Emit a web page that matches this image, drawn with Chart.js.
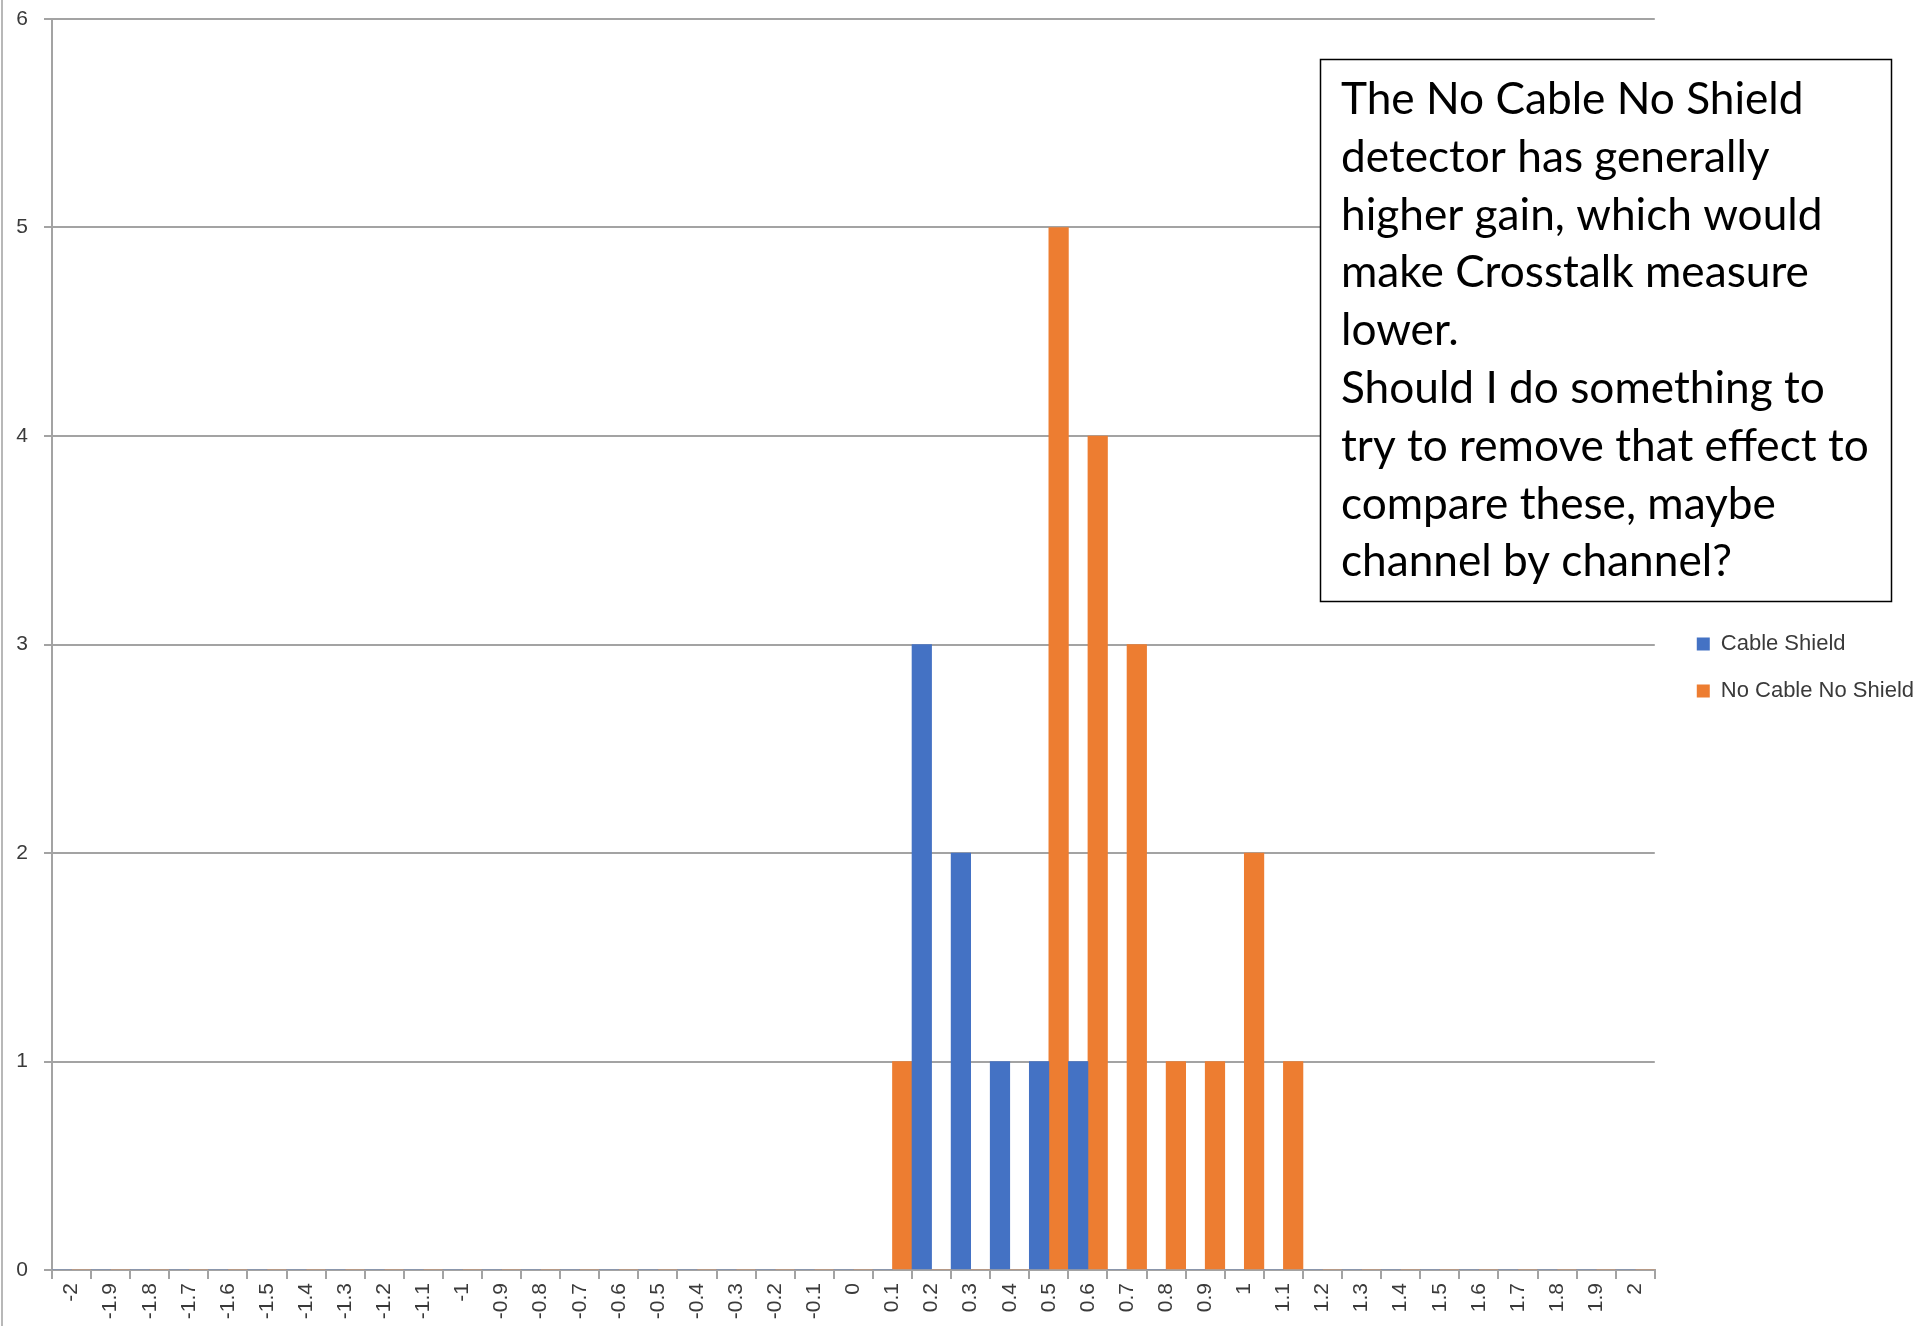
<!DOCTYPE html>
<html>
<head>
<meta charset="utf-8">
<title>Crosstalk histogram</title>
<script src="https://cdn.jsdelivr.net/npm/chart.js@4.4.0/dist/chart.umd.min.js"></script>
<style>
  html, body { margin: 0; padding: 0; background: #fff; }
  #wrap { position: relative; width: 1931px; height: 1326px; }
</style>
</head>
<body>
<div id="wrap"><canvas id="histChart"></canvas></div>
<script>
// histogram bins (crosstalk value)
const bins = ['-2', '-1.9', '-1.8', '-1.7', '-1.6', '-1.5', '-1.4', '-1.3', '-1.2', '-1.1',
  '-1', '-0.9', '-0.8', '-0.7', '-0.6', '-0.5', '-0.4', '-0.3', '-0.2', '-0.1',
  '0', '0.1', '0.2', '0.3', '0.4', '0.5', '0.6', '0.7', '0.8', '0.9',
  '1', '1.1', '1.2', '1.3', '1.4', '1.5', '1.6', '1.7', '1.8', '1.9', '2'];

// counts per bin
const cableShield = [0, 0, 0, 0, 0, 0, 0, 0, 0, 0,
  0, 0, 0, 0, 0, 0, 0, 0, 0, 0,
  0, 0, 3, 2, 1, 1, 1, 0, 0, 0,
  0, 0, 0, 0, 0, 0, 0, 0, 0, 0, 0];
const noCableNoShield = [0, 0, 0, 0, 0, 0, 0, 0, 0, 0,
  0, 0, 0, 0, 0, 0, 0, 0, 0, 0,
  0, 1, 0, 0, 0, 5, 4, 3, 1, 1,
  2, 1, 0, 0, 0, 0, 0, 0, 0, 0, 0];

const seriesNames = ['Cable Shield', 'No Cable No Shield'];
const yMin = 0;
const yMax = 6;
const yStep = 1;

const noteLines = [
  'The No Cable No Shield',
  'detector has generally',
  'higher gain, which would',
  'make Crosstalk measure',
  'lower.',
  'Should I do something to',
  'try to remove that effect to',
  'compare these, maybe',
  'channel by channel?'
];

const axisGray = '#a3a3a3';
const labelColor = '#3a3a3a';
const tickFont = { family: '"Liberation Sans", Arial, sans-serif', size: 21 };

// text box on the right + slide edge on the left
const noteBox = {
  id: 'noteBox',
  afterDraw(chart) {
    const ctx = chart.ctx;
    ctx.save();
    ctx.strokeStyle = '#b8b8b8';
    ctx.lineWidth = 2;
    ctx.beginPath();
    ctx.moveTo(2, 0);
    ctx.lineTo(2, chart.height);
    ctx.stroke();

    const bx = 1320, by = 59, bw = 572, bh = 543;
    ctx.fillStyle = '#fff';
    ctx.fillRect(bx, by, bw, bh);
    ctx.strokeStyle = '#000';
    ctx.lineWidth = 1.5;
    ctx.strokeRect(bx + 0.5, by + 0.5, bw - 1, bh - 1);

    // size the font so the widest line fits like the original
    ctx.font = '47px Lato, "Open Sans", sans-serif';
    const w = ctx.measureText(noteLines[6]).width;
    const size = Math.min(50, 47 * 528 / w);
    ctx.font = size.toFixed(1) + 'px Lato, "Open Sans", sans-serif';
    ctx.fillStyle = '#000';
    ctx.textBaseline = 'alphabetic';
    ctx.textAlign = 'left';
    noteLines.forEach((line, i) => {
      ctx.fillText(line, 1341, 114 + i * 57.8);
    });
    ctx.restore();
  }
};

// nudge the legend to sit where Excel put it
const legendNudge = {
  id: 'legendNudge',
  afterLayout(chart) {
    const l = chart.legend;
    const dx = chart.chartArea.right + 17 - l.left;
    l.left += dx; l.right += dx;
    l.top -= 5; l.bottom -= 5;
  }
};

const ctx = document.getElementById('histChart').getContext('2d');
new Chart(ctx, {
  type: 'bar',
  data: {
    labels: bins,
    datasets: [
      {
        label: seriesNames[0],
        data: cableShield,
        backgroundColor: '#4472C4',
        borderWidth: 0
      },
      {
        label: seriesNames[1],
        data: noCableNoShield,
        backgroundColor: '#ED7D31',
        borderWidth: 0
      }
    ]
  },
  options: {
    responsive: true,
    maintainAspectRatio: false,
    animation: false,
    categoryPercentage: 1.0,
    barPercentage: 1.0,
    layout: {
      padding: { top: 19, right: 24, bottom: 0, left: 0 }
    },
    plugins: {
      legend: {
        position: 'right',
        labels: {
          boxWidth: 13,
          boxHeight: 13,
          padding: 25,
          color: labelColor,
          font: { family: '"Liberation Sans", Arial, sans-serif', size: 22 }
        }
      },
      tooltip: { enabled: true }
    },
    scales: {
      x: {
        offset: true,
        afterFit(axis) { axis.height = 56; },
        border: { display: true, color: axisGray, width: 2 },
        grid: {
          offset: true,
          drawOnChartArea: false,
          drawTicks: true,
          tickLength: 9,
          color: axisGray,
          lineWidth: 2
        },
        ticks: {
          autoSkip: false,
          maxRotation: 90,
          minRotation: 90,
          padding: 4,
          color: labelColor,
          font: tickFont
        }
      },
      y: {
        min: yMin,
        max: yMax,
        afterFit(axis) {
          axis.width = 52;
          // the label padding would otherwise push the plot top down
          axis.paddingTop = 0;
          axis.paddingBottom = 0;
        },
        border: { display: true, color: axisGray, width: 2 },
        grid: {
          color: axisGray,
          lineWidth: 2,
          drawTicks: true,
          tickLength: 8
        },
        ticks: {
          stepSize: yStep,
          padding: 16,
          color: labelColor,
          font: tickFont
        }
      }
    }
  },
  plugins: [noteBox, legendNudge]
});
</script>
</body>
</html>
